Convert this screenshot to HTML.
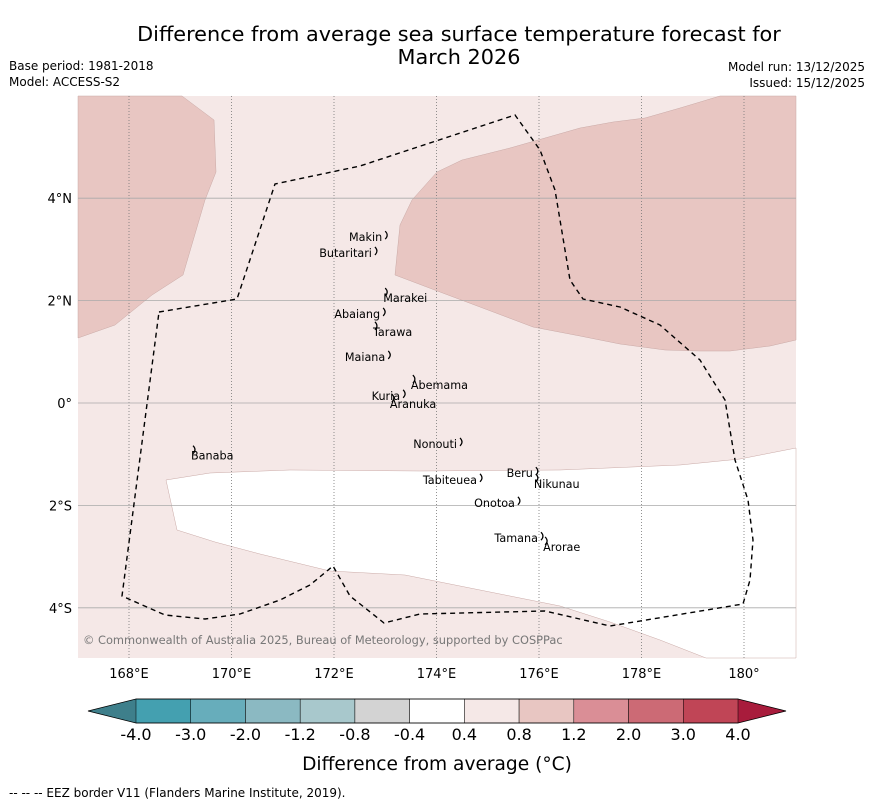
<!DOCTYPE html>
<html><head><meta charset="utf-8"><style>
body{margin:0;background:#fff;font-family:"Liberation Sans","DejaVu Sans",sans-serif;}
svg text{font-family:"DejaVu Sans","Liberation Sans",sans-serif;}
</style></head><body>
<svg id="c" width="873" height="804" viewBox="0 0 873 804" xmlns="http://www.w3.org/2000/svg">
<text x="459" y="41" font-size="20.8" text-anchor="middle">Difference from average sea surface temperature forecast for</text>
<text x="459" y="64" font-size="20.8" text-anchor="middle">March 2026</text>
<text x="9" y="70" font-size="12">Base period: 1981-2018</text>
<text x="9" y="86" font-size="12">Model: ACCESS-S2</text>
<text x="865" y="71" font-size="12" text-anchor="end">Model run: 13/12/2025</text>
<text x="865" y="87" font-size="12" text-anchor="end">Issued: 15/12/2025</text>
<g id="map"></g>
<g id="cb"></g>
<text x="437" y="770" font-size="18.6" text-anchor="middle">Difference from average (°C)</text>
<text x="9" y="797" font-size="12">--  --  -- EEZ border V11 (Flanders Marine Institute, 2019).</text>
</svg>
<script>
const lonTicks=[168,170,172,174,176,178,180];
const latTicks=[4,2,0,-2,-4];
const cbBounds=["-4.0","-3.0","-2.0","-1.2","-0.8","-0.4","0.4","0.8","1.2","2.0","3.0","4.0"];
const cbColors=["#44a0b0","#67adbb","#8bb9c2","#a8c8cc","#d3d3d3","#ffffff","#f5e8e7","#e8c6c2","#da8e96","#cc6a75","#c04556"];
const islands=[["Makin",172.94,3.24,-1],["Butaritari",172.74,2.93,-1],["Marakei",172.96,2.05,0],["Abaiang",172.90,1.74,-1],["Tarawa",172.76,1.39,0],["Maiana",173.0,0.90,-1],["Abemama",173.50,0.35,0],["Kuria",173.29,0.14,-1],["Aranuka",173.09,-0.02,0],["Nonouti",174.40,-0.80,-1],["Banaba",169.21,-1.03,0],["Beru",175.88,-1.37,-1],["Nikunau",175.90,-1.58,0],["Tabiteuea",174.79,-1.50,-1],["Onotoa",175.53,-1.95,-1],["Tamana",175.98,-2.64,-1],["Arorae",176.08,-2.81,0]];
const X=lon=>129+(lon-168)*51.25, Y=lat=>403-lat*51.2;
const NS="http://www.w3.org/2000/svg";
function mk(p,t,a){const e=document.createElementNS(NS,t);for(const k in a)e.setAttribute(k,a[k]);p.appendChild(e);return e;}
const m=document.getElementById('map');
let r=mk(m,'rect',{x:78,y:96,width:718,height:562,fill:'#f5e8e7'});


let p=mk(m,'polygon',{points:'78,96 182,96 214,120 216,172 205,200 183,275 152,295 115,325 78,338',fill:'#e8c6c2',stroke:'#c9a9a6','stroke-width':0.5});


p=mk(m,'polygon',{points:'395,275 400,225 412,200 437,172 462,160 510,148 545,138 580,128 613,122 645,118 680,108 720,96 796,96 796,340 770,346 730,351 700,351 665,350 620,344 580,336 533,327 480,307 440,292',fill:'#e8c6c2',stroke:'#c9a9a6','stroke-width':0.5});


p=mk(m,'polygon',{points:'166,480 210,473 290,470 420,471 560,470 680,465 740,459 796,448 796,658 706,658 660,640 610,622 560,606 480,590 405,575 330,571 260,554 215,542 177,530',fill:'#ffffff',stroke:'#c9a9a6','stroke-width':0.5});


lonTicks.forEach(l=>{const x=X(l);
 let g=mk(m,'line',{x1:x,x2:x,y1:96,y2:658,stroke:'#777','stroke-width':0.8,'stroke-dasharray':'1,2'});
 
 
 let t=mk(m,'text',{x:x,y:678,'font-size':13,'text-anchor':'middle'});t.textContent=l===180?'180°':l+'°E';
 
 });
latTicks.forEach(l=>{const y=Y(l);
 let g=mk(m,'line',{x1:78,x2:796,y1:y,y2:y,stroke:'#aaa','stroke-width':0.8});
 
 
 let t=mk(m,'text',{x:72,y:y+5,'font-size':13,'text-anchor':'end'});t.textContent=l===0?'0°':Math.abs(l)+'°'+(l>0?'N':'S');
 
 });
p=mk(m,'polygon',{points:'159,312 237,299 275,184 360,166 515,115 540,150 555,190 570,280 583,299 620,307 660,325 700,360 725,400 735,460 748,500 753,540 750,580 743,604 610,626 545,611 420,614 384,623 350,596 333,566 310,585 280,600 240,614 205,619 165,615 122,596',fill:'none',stroke:'#000','stroke-width':1.4,'stroke-dasharray':'5,4'});


islands.forEach(d=>{const x=X(d[1]),y=Y(d[2]);
 const mx=d[3]<0?x+3:x+2, my=d[3]<0?y-6:y-10;
 let s=mk(m,'path',{d:`M${mx},${my} q4,4 0,8`,fill:'none',stroke:'#000','stroke-width':1.2});
 
 
 let t=mk(m,'text',{x:x,y:y+4,'font-size':11.2,'text-anchor':d[3]<0?'end':'start'});t.textContent=d[0];
 
 });
let t=mk(m,'text',{x:83,y:644,'font-size':11.4,fill:'#777'});t.textContent='© Commonwealth of Australia 2025, Bureau of Meteorology, supported by COSPPac';


const cb=document.getElementById('cb');
const x0=136,x1=738,w=(x1-x0)/cbColors.length;
let e=mk(cb,'polygon',{points:`88,711 ${x0},699 ${x0},723`,fill:'#3e7f8b'});


e=mk(cb,'polygon',{points:`786,711 ${x1},699 ${x1},723`,fill:'#a81c3c'});


cbColors.forEach((c,i)=>{let b=mk(cb,'rect',{x:x0+i*w,y:699,width:w,height:24,fill:c,stroke:'#000','stroke-width':0.5});
 
 });
mk(cb,'polygon',{points:`88,711 ${x0},699 ${x1},699 786,711 ${x1},723 ${x0},723`,fill:'none',stroke:'#000','stroke-width':0.8});
cbBounds.forEach((s,i)=>{let l=mk(cb,'text',{x:x0+i*w,y:740,'font-size':16,'text-anchor':'middle'});l.textContent=s;
 
 });
</script>
</body></html>
